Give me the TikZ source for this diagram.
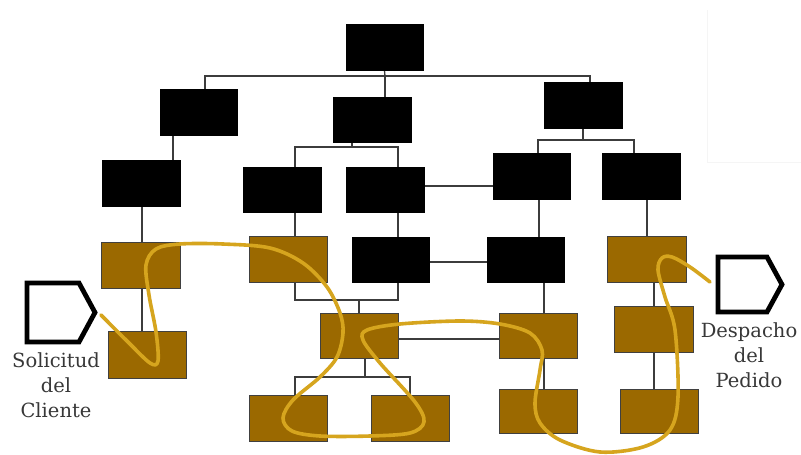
\documentclass[tikz,border=0pt]{standalone}
\usepackage{fontspec}
\newfontfamily\labfont{DejaVu Serif}
\definecolor{boxbrown}{RGB}{155,105,0}
\definecolor{flowgold}{RGB}{214,165,30}
\definecolor{linegray}{RGB}{60,60,60}
\begin{document}
\begin{tikzpicture}[x=1pt,y=-1pt,
  blk/.style={draw=black,line width=1pt,fill=black,inner sep=0pt},
  brn/.style={draw=black!75,line width=1.2pt,fill=boxbrown,inner sep=0pt},
  conn/.style={draw=linegray,line width=1.3pt},
  pent/.style={draw=black,line width=4.8pt,line join=miter},
  flow/.style={draw=flowgold,line width=3.6pt,line cap=round,line join=round},
  lab/.style={font=\labfont\fontsize{19.5}{25}\selectfont,align=center,text=black!78,inner sep=0pt}]
\useasboundingbox (0,0) rectangle (801,455);
\fill[white] (0,0) rectangle (801,455);
% faint frame in the upper right
\draw[black!4,line width=0.8pt] (707,10) -- (707,162) -- (801,162);
\newcommand\bx[6]{\node[#6,minimum width={#4-#2},minimum height={#5-#3}] (#1) at ({(#2+#4)/2},{(#3+#5)/2}) {};}
% level 0-2 (black)
\bx{T}{346}{24}{423}{70}{blk}
\bx{A}{160}{89}{237}{135}{blk}
\bx{M}{333}{97}{411}{142}{blk}
\bx{R}{544}{82}{622}{128}{blk}
\bx{B}{102}{160}{180}{206}{blk}
\bx{Ma}{243}{167}{321}{212}{blk}
\bx{Mb}{346}{167}{424}{212}{blk}
\bx{Ra}{493}{153}{570}{199}{blk}
\bx{Rb}{602}{153}{680}{199}{blk}
% level 3
\bx{C1}{102}{243}{180}{288}{brn}
\bx{C2}{250}{237}{327}{282}{brn}
\bx{C3}{352}{237}{429}{282}{blk}
\bx{C4}{487}{237}{564}{282}{blk}
\bx{C5}{608}{237}{686}{282}{brn}
% level 4
\bx{D1}{109}{332}{186}{378}{brn}
\bx{D2}{321}{314}{398}{358}{brn}
\bx{D3}{500}{314}{577}{358}{brn}
\bx{D4}{615}{307}{693}{352}{brn}
% level 5
\bx{E1}{250}{396}{327}{441}{brn}
\bx{E2}{372}{396}{449}{441}{brn}
\bx{E3}{500}{390}{577}{433}{brn}
\bx{E4}{621}{390}{698}{433}{brn}
% connectors
\coordinate (busT) at (385,76);
\draw[conn] (T.south) -- (busT);
\draw[conn] (A.north -| 205,0) |- (busT) -| (R.north -| 590,0);
\draw[conn] (busT) -- (M.north -| 385,0);
\coordinate (busM) at (352,147);
\draw[conn] (M.south -| 352,0) -- (busM);
\draw[conn] (Ma.north -| 295,0) |- (busM) -| (Mb.north -| 398,0);
\coordinate (busR) at (583,140);
\draw[conn] (R.south -| 583,0) -- (busR);
\draw[conn] (Ra.north -| 538,0) |- (busR) -| (Rb.north -| 634,0);
\draw[conn] (A.south -| 173,0) -- (B.north -| 173,0);
\draw[conn] (B.south -| 142,0) -- (C1.north -| 142,0);
\draw[conn] (Ma.south -| 295,0) -- (C2.north -| 295,0);
\draw[conn] (Mb.south -| 398,0) -- (C3.north -| 398,0);
\draw[conn] (Ra.south -| 539,0) -- (C4.north -| 539,0);
\draw[conn] (Rb.south -| 647,0) -- (C5.north -| 647,0);
\draw[conn] (Mb.east |- 0,186) -- (Ra.west |- 0,186);
\draw[conn] (C3.east |- 0,262) -- (C4.west |- 0,262);
\draw[conn] (C1.south -| 142,0) -- (D1.north -| 142,0);
\coordinate (busC) at (359,300);
\draw[conn] (C2.south -| 295,0) |- (busC) -| (C3.south -| 398,0);
\draw[conn] (busC) -- (D2.north -| 359,0);
\draw[conn] (C4.south -| 544,0) -- (D3.north -| 544,0);
\draw[conn] (C5.south -| 654,0) -- (D4.north -| 654,0);
\draw[conn] (D2.east |- 0,339) -- (D3.west |- 0,339);
\coordinate (busD) at (365,377);
\draw[conn] (D2.south -| 365,0) -- (busD);
\draw[conn] (E1.north -| 295,0) |- (busD) -| (E2.north -| 410,0);
\draw[conn] (D3.south -| 544,0) -- (E3.north -| 544,0);
\draw[conn] (D4.south -| 654,0) -- (E4.north -| 654,0);
% redraw boxes on top of connectors
\foreach \n in {T,A,M,R,B,Ma,Mb,Ra,Rb,C3,C4}{\fill[black] (\n.south west) rectangle (\n.north east);}
\foreach \n in {C1,C2,C5,D1,D2,D3,D4,E1,E2,E3,E4}{\filldraw[fill=boxbrown,draw=black!75,line width=1.2pt] (\n.south west) rectangle (\n.north east);}
% pentagons
\draw[pent] (27,283) -- (79,283) -- (95,312.5) -- (79,342) -- (27,342) -- cycle;
\draw[pent] (718,257) -- (767,257) -- (782,284.5) -- (767,312) -- (718,312) -- cycle;
% labels
\node[lab,anchor=north] (L1) at (56,352.5) {Solicitud\\del\\Cliente};
\node[lab,anchor=north] (L2) at (749,322.5) {Despacho\\del\\Pedido};
% flow curve
\draw[flow] plot[smooth,tension=0.55] coordinates {
 (101,315) (128,342) (150,363) (158,361) (156,332) (149,295) (146,265)
 (156,249) (180,244) (223,244) (270,248) (303,263) (327,287) (340,313)
 (343,333) (337,357) (320,377) (293,400) (283,418) (292,431) (320,436)
 (370,436) (410,433) (424,422) (415,402) (380,363) (363,340) (367,330)
 (400,324) (460,321) (500,324) (530,333) (542,350) (540,370) (535,403)
 (540,423) (560,440) (600,452) (643,447) (670,430) (678,397) (675,330)
 (665,297) (658,270) (662,258) (672,257) (690,267) (710,282)};
\end{tikzpicture}
\end{document}
